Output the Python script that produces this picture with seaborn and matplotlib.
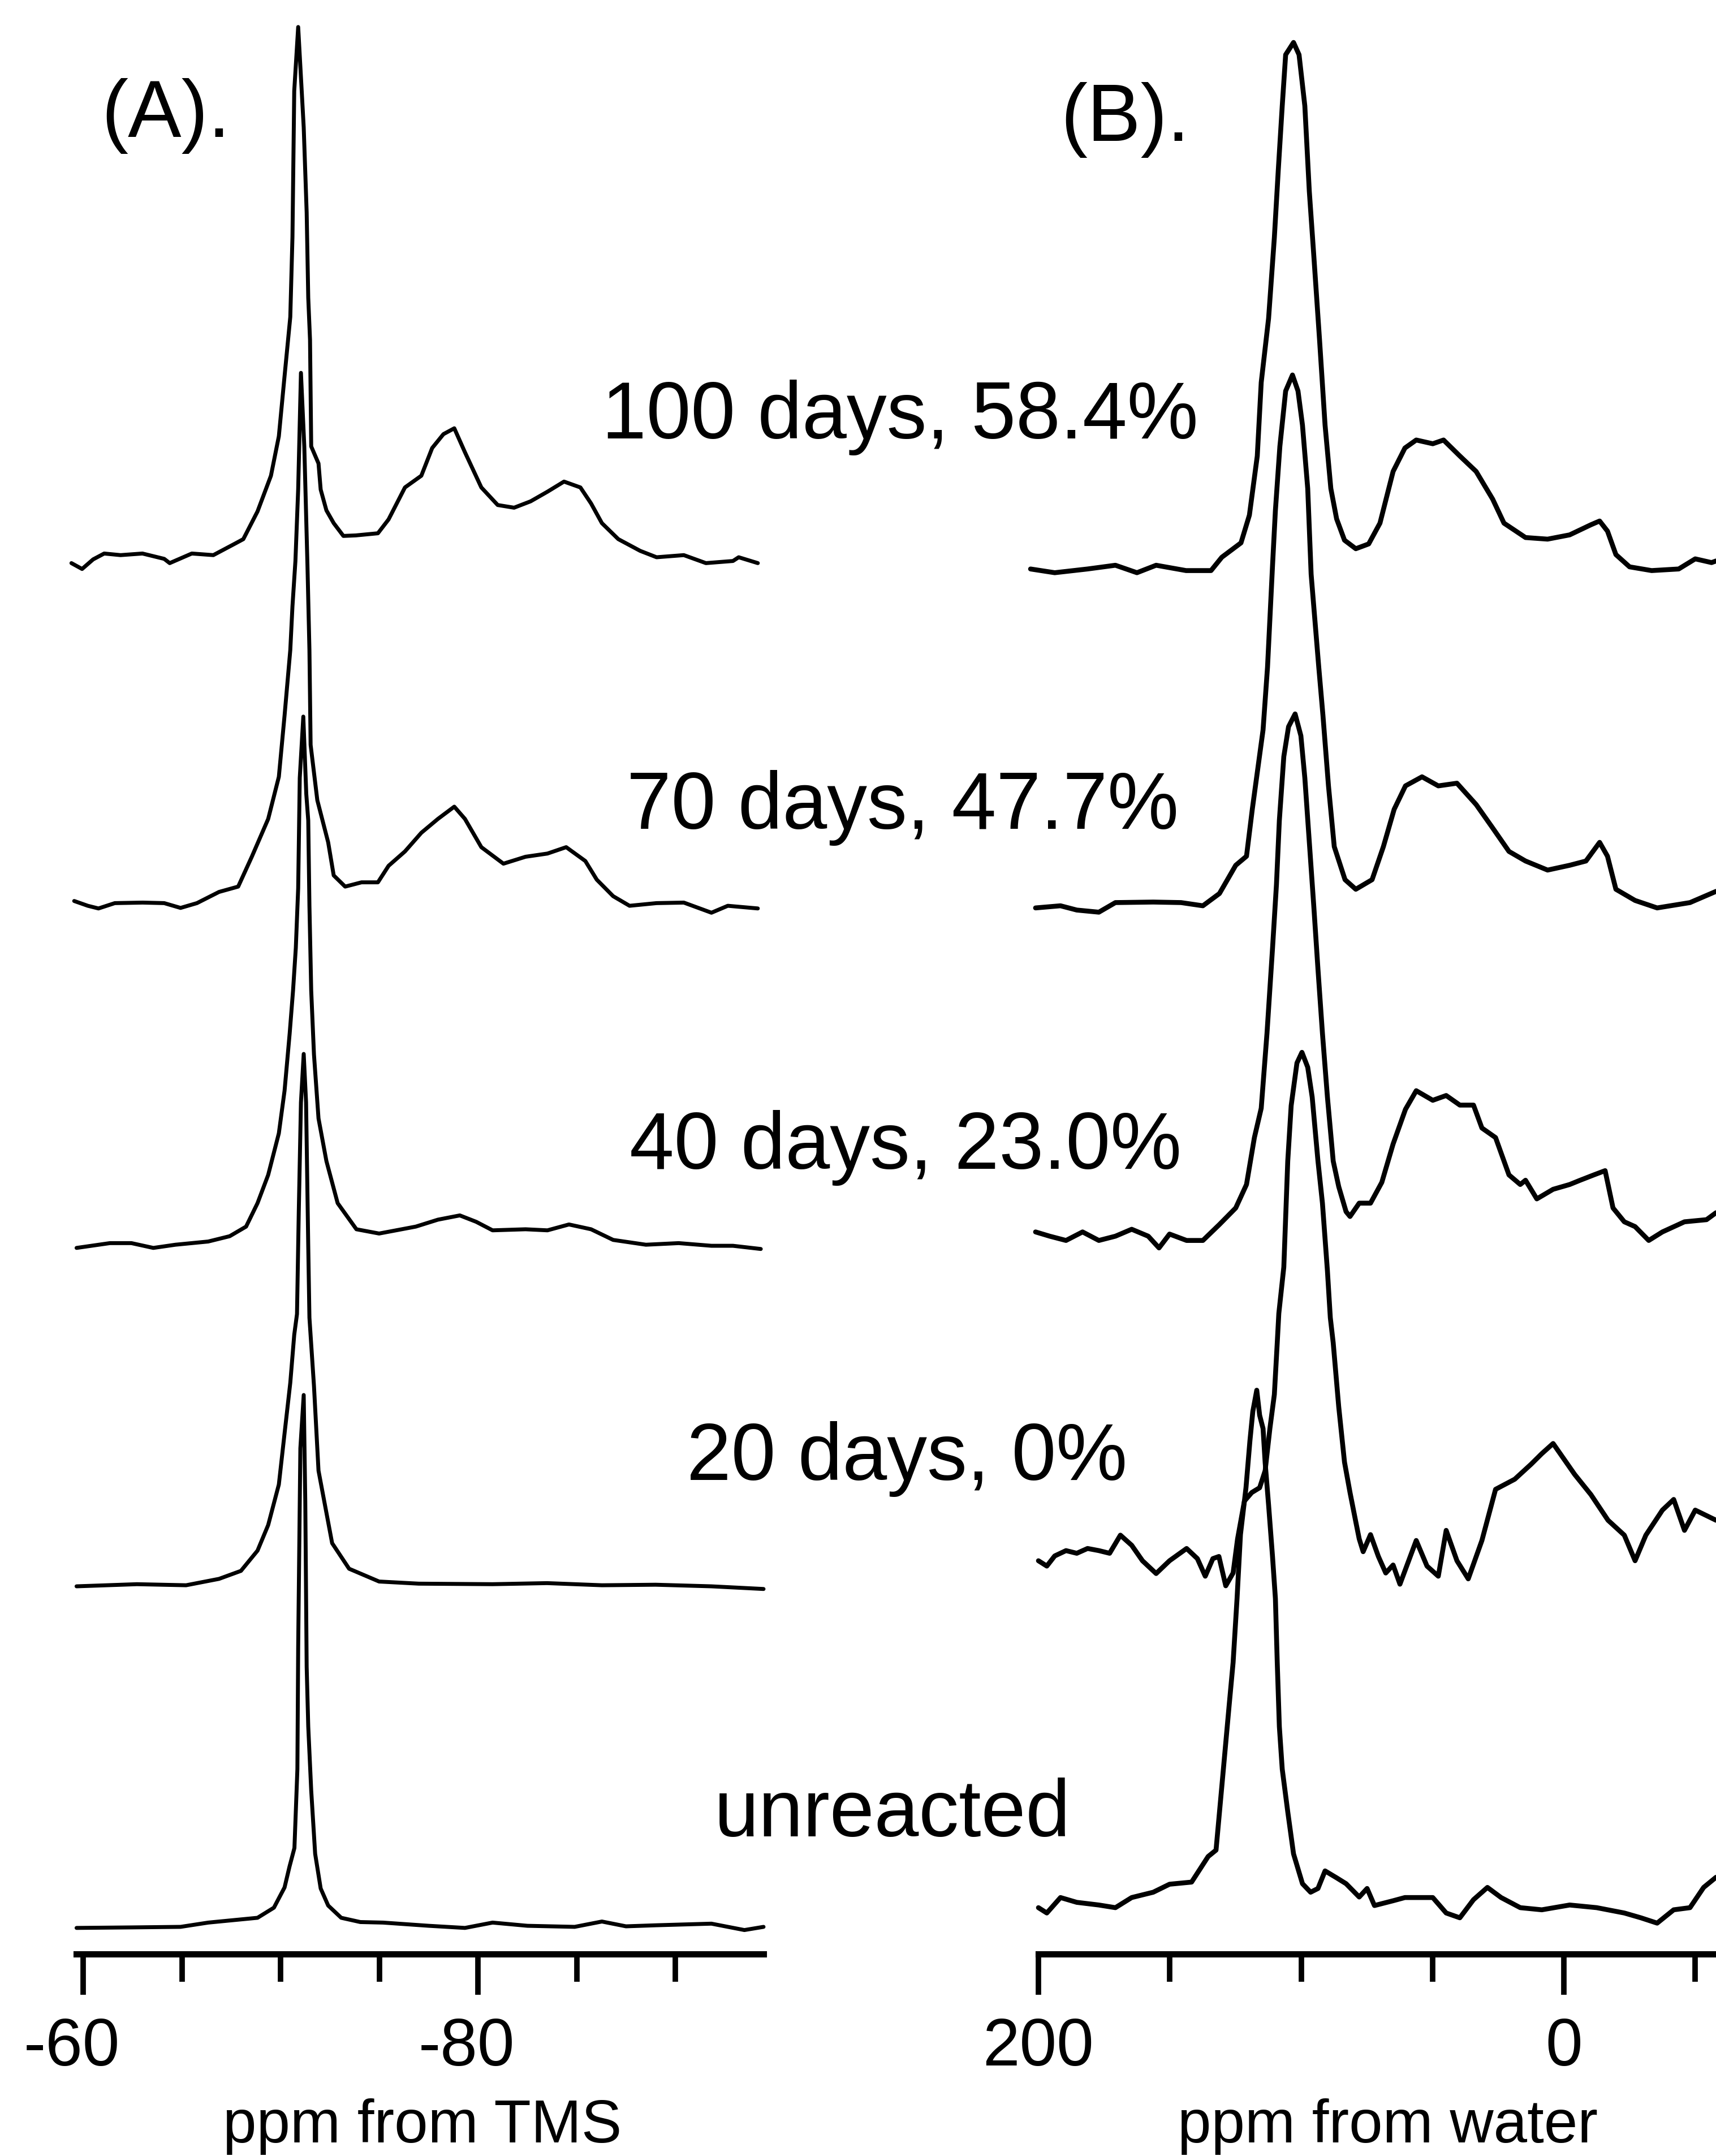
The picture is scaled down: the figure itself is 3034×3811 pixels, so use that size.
import numpy as np
import matplotlib
matplotlib.use("Agg")
import matplotlib.pyplot as plt
import matplotlib.transforms as mtransforms
import seaborn as sns

# ---- panel A: 29Si spectra, ppm from TMS ; intensity normalised to main peak
A_100_ppm = [-59.40, -59.94, -60.5, -61.06, -61.89, -63.0, -64.10, -64.38, -65.50, -66.59, -67.71, -68.11,
             -68.83, -69.51, -69.91, -70.20, -70.49, -70.60, -70.69, -70.89, -71.17, -71.32, -71.40, -71.49,
             -71.55, -71.92, -72.03, -72.32, -72.69, -73.18, -73.81, -74.93, -75.47, -76.30, -77.13, -77.68,
             -78.25, -78.80, -79.34, -80.17, -81.00, -81.83, -82.67, -83.52, -84.36, -85.19, -85.73, -86.28,
             -87.11, -88.22, -89.05, -90.43, -91.55, -92.92, -93.21, -94.18]
A_100_int = [-0.012, -0.023, -0.005, 0.006, 0.003, 0.006, -0.004, -0.012, 0.006, 0.003, 0.025, 0.033,
             0.085, 0.152, 0.226, 0.339, 0.450, 0.600, 0.874, 0.994, 0.806, 0.646, 0.486, 0.407,
             0.207, 0.175, 0.126, 0.087, 0.063, 0.039, 0.040, 0.044, 0.070, 0.130, 0.152, 0.204,
             0.230, 0.241, 0.196, 0.130, 0.097, 0.092, 0.104, 0.122, 0.141, 0.130, 0.100, 0.063,
             0.033, 0.011, -0.001, 0.003, -0.012, -0.008, -0.001, -0.012]

A_70_ppm = [-59.54, -60.23, -60.77, -61.60, -63.01, -64.10, -64.93, -65.76, -66.88, -67.85, -68.54, -69.37,
            -69.91, -70.20, -70.49, -70.60, -70.75, -70.89, -71.03, -71.20, -71.36, -71.46, -71.52, -71.86,
            -72.41, -72.69, -73.27, -74.10, -74.93, -75.47, -76.30, -77.13, -77.97, -78.80, -79.34, -80.17,
            -81.29, -82.41, -83.52, -84.47, -85.44, -86.02, -86.85, -87.68, -89.05, -90.43, -91.83, -92.66,
            -94.18]
A_70_int = [0.007, -0.002, -0.007, 0.003, 0.004, 0.003, -0.006, 0.003, 0.024, 0.034, 0.090, 0.161,
            0.240, 0.355, 0.478, 0.560, 0.645, 0.780, 0.998, 0.860, 0.637, 0.478, 0.300, 0.196,
            0.117, 0.055, 0.034, 0.042, 0.042, 0.073, 0.100, 0.135, 0.161, 0.184, 0.161, 0.108,
            0.077, 0.090, 0.096, 0.108, 0.082, 0.047, 0.016, -0.002, 0.003, 0.004, -0.015, -0.002,
            -0.007]

A_40_ppm = [-59.66, -61.35, -62.44, -63.55, -64.67, -66.33, -67.42, -68.25, -68.83, -69.37, -69.91, -70.20,
            -70.46, -70.63, -70.77, -70.89, -70.97, -71.15, -71.30, -71.40, -71.46, -71.55, -71.69, -71.92,
            -72.32, -72.89, -73.84, -74.99, -76.85, -77.97, -79.08, -79.91, -80.74, -82.41, -83.52, -84.61,
            -85.73, -86.85, -88.51, -90.17, -91.83, -92.92, -94.33]
A_40_int = [-0.002, 0.007, 0.007, -0.002, 0.004, 0.010, 0.020, 0.038, 0.082, 0.135, 0.213, 0.293,
            0.401, 0.481, 0.561, 0.673, 0.880, 0.995, 0.850, 0.800, 0.640, 0.481, 0.361, 0.241,
            0.161, 0.082, 0.033, 0.025, 0.038, 0.051, 0.059, 0.047, 0.031, 0.033, 0.031, 0.042,
            0.033, 0.013, 0.004, 0.007, 0.002, 0.002, -0.004]

A_20_ppm = [-59.66, -62.72, -65.21, -66.88, -67.99, -68.83, -69.37, -69.91, -70.20, -70.49, -70.69, -70.83,
            -70.92, -71.03, -71.17, -71.29, -71.40, -71.46, -71.69, -71.92, -72.61, -73.47, -74.99, -77.0,
            -80.74, -83.5, -86.28, -89.0, -91.83, -94.47]
A_20_int = [0.001, 0.005, 0.003, 0.015, 0.030, 0.068, 0.116, 0.192, 0.288, 0.383, 0.473, 0.512,
            0.704, 0.909, 1.0, 0.909, 0.639, 0.505, 0.377, 0.218, 0.082, 0.034, 0.010, 0.006,
            0.005, 0.007, 0.003, 0.004, 0.001, -0.004]

A_0_ppm = [-59.66, -62.5, -64.93, -66.33, -68.83, -69.66, -70.20, -70.45, -70.70, -70.85, -70.89, -71.00,
           -71.17, -71.25, -71.32, -71.40, -71.55, -71.75, -72.03, -72.41, -73.07, -74.04, -75.19, -77.5,
           -79.34, -80.74, -82.5, -84.90, -86.28, -87.5, -89.05, -91.83, -93.50, -94.47]
A_0_int = [0.0, 0.001, 0.002, 0.010, 0.019, 0.038, 0.076, 0.115, 0.150, 0.298, 0.527, 0.90,
           1.0, 0.80, 0.490, 0.378, 0.258, 0.139, 0.074, 0.042, 0.019, 0.011, 0.010, 0.004,
           0.0, 0.010, 0.004, 0.002, 0.012, 0.003, 0.005, 0.008, -0.004, 0.002]

# ---- panel B: spectra, ppm from water
B_100_ppm = [203.0, 193.8, 181.3, 170.7, 162.5, 155.2, 143.8, 134.3, 130.2, 122.9, 119.7, 116.7, 115.2,
             112.4, 110.2, 108.7, 107.2, 105.9, 102.9, 100.8, 98.6, 96.9, 95.2, 93.0, 90.9, 88.7, 86.5,
             83.5, 79.2, 74.3, 70.0, 65.0, 60.5, 56.2, 49.9, 45.8, 39.6, 33.4, 27.1, 22.8, 14.6, 6.2,
             -2.2, -10.3, -13.6, -16.6, -19.8, -25.0, -33.4, -43.7, -50.0, -56.2, -57.9]
B_100_int = [0, -0.007, 0, 0.007, -0.007, 0.007, -0.003, -0.003, 0.022, 0.049, 0.101, 0.212, 0.350,
             0.470, 0.622, 0.749, 0.869, 0.965, 0.988, 0.965, 0.869, 0.709, 0.589, 0.430, 0.270, 0.151, 0.094,
             0.054, 0.038, 0.047, 0.086, 0.183, 0.227, 0.242, 0.235, 0.242, 0.212, 0.183, 0.131, 0.086, 0.059, 0.056,
             0.064, 0.083, 0.090, 0.071, 0.027, 0.004, -0.003, 0, 0.019, 0.012, 0.015]

B_70_ppm = [201.1, 191.6, 185.4, 177.0, 170.7, 156.3, 145.7, 137.4, 131.1, 124.9, 120.8, 118.6, 114.5,
            112.8, 110.9, 109.8, 108.1, 105.9, 103.3, 101.2, 99.5, 97.5, 96.2, 93.3, 91.7, 89.6, 87.4,
            83.3, 79.2, 73.0, 68.7, 64.6, 60.3, 54.0, 47.8, 40.7, 33.4, 27.1, 20.9, 14.6, 6.2, -2.2,
            -8.4, -13.6, -16.6, -19.8, -27.1, -35.5, -48.0, -57.9]
B_70_int = [0, 0.004, -0.004, -0.008, 0.010, 0.011, 0.010, 0.004, 0.027, 0.080, 0.097, 0.185, 0.334,
            0.452, 0.642, 0.746, 0.866, 0.970, 1.0, 0.970, 0.906, 0.787, 0.626, 0.452, 0.361, 0.229, 0.115,
            0.053, 0.035, 0.053, 0.115, 0.185, 0.229, 0.246, 0.229, 0.234, 0.194, 0.150, 0.106, 0.088, 0.071, 0.080,
            0.088, 0.123, 0.097, 0.035, 0.014, 0, 0.010, 0.031]

B_40_ppm = [201.1, 195.7, 189.5, 183.2, 177.0, 170.7, 164.5, 158.2, 154.1, 150.1, 143.6, 137.4, 131.1,
            124.9, 120.8, 117.8, 115.2, 113.0, 110.9, 109.4, 108.3, 106.6, 104.8, 102.3, 100.1, 98.6, 96.9,
            95.2, 93.6, 91.9, 90.0, 87.8, 85.7, 82.9, 81.4, 77.9, 73.6, 69.3, 65.0, 60.3, 56.2, 49.9,
            44.8, 39.6, 34.4, 31.2, 26.0, 20.9, 16.6, 14.6, 10.3, 4.1, -2.2, -6.2, -11.4, -15.7, -18.7,
            -23.0, -27.1, -32.3, -37.5, -45.9, -54.3, -57.9]
B_40_int = [0.008, 0, -0.008, 0.008, -0.008, 0, 0.013, 0, -0.022, 0.004, -0.008, -0.008, 0.022,
            0.053, 0.097, 0.185, 0.240, 0.381, 0.540, 0.660, 0.780, 0.900, 0.956, 0.980, 0.939, 0.860, 0.740,
            0.620, 0.501, 0.381, 0.261, 0.141, 0.093, 0.046, 0.037, 0.062, 0.062, 0.101, 0.173, 0.238, 0.273, 0.255,
            0.264, 0.246, 0.246, 0.203, 0.185, 0.115, 0.097, 0.105, 0.070, 0.088, 0.097, 0.105, 0.115, 0.123, 0.053,
            0.027, 0.018, -0.008, 0.008, 0.027, 0.031, 0.044]

B_20_ppm = [200.0, 196.8, 193.8, 189.5, 185.4, 181.3, 177.0, 172.9, 168.8, 164.5, 160.4, 155.2, 150.1,
            143.6, 139.5, 136.5, 133.6, 131.3, 128.7, 125.9, 124.2, 121.6, 118.8, 115.8, 113.7, 111.9, 110.2,
            109.1, 108.5, 106.6, 105.1, 103.8, 101.6, 99.7, 97.5, 95.8, 93.6, 91.9, 90.0, 88.9, 87.8, 85.7,
            83.5, 81.4, 79.2, 77.9, 76.4, 73.6, 70.6, 67.8, 65.0, 62.4, 56.2, 52.1, 47.8, 44.8, 40.7,
            36.4, 31.2, 26.0, 18.7, 12.5, 8.4, 4.1, 0.0, -4.1, -10.3, -16.8, -23.0, -27.1, -31.2,
            -37.5, -41.8, -45.9, -50.0, -57.9]
B_20_int = [0.016, 0.006, 0.025, 0.035, 0.030, 0.039, 0.035, 0.030, 0.064, 0.045, 0.016, -0.008, 0.016,
            0.039, 0.020, -0.013, 0.020, 0.024, -0.031, -0.007, 0.057, 0.128, 0.144, 0.153, 0.185, 0.264, 0.328,
            0.425, 0.480, 0.567, 0.766, 0.870, 0.950, 0.970, 0.942, 0.886, 0.766, 0.687, 0.560, 0.472, 0.425, 0.305,
            0.201, 0.144, 0.089, 0.057, 0.033, 0.065, 0.024, -0.007, 0.008, -0.028, 0.054, 0.006, -0.013, 0.073, 0.016,
            -0.018, 0.054, 0.150, 0.169, 0.197, 0.217, 0.236, 0.207, 0.178, 0.140, 0.092, 0.064, 0.016, 0.064,
            0.111, 0.131, 0.073, 0.111, 0.092]

B_0_ppm = [200.0, 196.8, 191.6, 185.4, 177.0, 170.7, 164.5, 156.3, 150.1, 141.7, 135.4, 132.4, 129.6,
           127.4, 125.9, 124.4, 123.1, 121.0, 119.5, 118.4, 116.9, 115.8, 114.5, 113.7, 112.4, 110.9, 109.8,
           109.1, 108.3, 107.2, 105.1, 102.9, 99.5, 96.4, 93.6, 90.9, 86.5, 82.9, 77.9, 74.9, 72.1, 65.0,
           60.5, 49.9, 44.8, 39.6, 34.4, 29.1, 23.9, 16.6, 8.4, -2.2, -12.5, -23.0, -29.3, -35.5, -41.8,
           -48.0, -53.2, -57.9]
B_0_int = [0, -0.010, 0.019, 0.010, 0.005, 0, 0.019, 0.029, 0.044, 0.048, 0.096, 0.108, 0.260,
           0.380, 0.460, 0.580, 0.700, 0.788, 0.876, 0.931, 0.971, 0.924, 0.899, 0.835, 0.756, 0.659, 0.580,
           0.460, 0.340, 0.260, 0.180, 0.101, 0.045, 0.029, 0.036, 0.069, 0.056, 0.045, 0.020, 0.036, 0.004, 0.013,
           0.019, 0.019, -0.010, -0.019, 0.015, 0.038, 0.019, 0, -0.004, 0.005, 0, -0.010, -0.019, -0.029, -0.004,
           0, 0.038, 0.057]

labels = ["100 days, 58.4%", "70 days, 47.7%", "40 days, 23.0%", "20 days, 0%", "unreacted"]
A_ticks = [-60, -80]
A_tick_labels = ["-60", "-80"]
A_minor = [-65, -70, -75, -85, -90]
B_ticks = [200, 0]
B_tick_labels = ["200", "0"]
B_minor = [150, 100, 50, -50]

# stacking offsets (baseline height above axis line, in units of peak height)
A_offsets = [2.622, 1.969, 1.327, 0.689, 0.049]
B_offsets = [2.599, 1.963, 1.347, 0.722, 0.087]

sns.set_style("white")
plt.rcParams['font.family'] = ['Liberation Sans', 'DejaVu Sans']
plt.rcParams['text.color'] = 'black'
plt.rcParams['xtick.color'] = 'black'
plt.rcParams['axes.labelcolor'] = 'black'

W, H = 3034, 3812
fig = plt.figure(figsize=(W / 100, H / 100), dpi=100)
axA = fig.add_axes([135 / W, 357 / H, 1215 / W, 3455 / H])
axB = fig.add_axes([1836 / W, 357 / H, 1198 / W, 3455 / H])

specA = [(A_100_ppm, A_100_int), (A_70_ppm, A_70_int), (A_40_ppm, A_40_int),
         (A_20_ppm, A_20_int), (A_0_ppm, A_0_int)]
specB = [(B_100_ppm, B_100_int), (B_70_ppm, B_70_int), (B_40_ppm, B_40_int),
         (B_20_ppm, B_20_int), (B_0_ppm, B_0_int)]

for (ppm, inten), off in zip(specA, A_offsets):
    sns.lineplot(x=ppm, y=np.array(inten) + off, ax=axA, color='black', linewidth=5.0,
                 sort=False, estimator=None, legend=False)
    axA.lines[-1].set_clip_on(False)
for (ppm, inten), off in zip(specB, B_offsets):
    sns.lineplot(x=ppm, y=np.array(inten) + off, ax=axB, color='black', linewidth=6.2,
                 sort=False, estimator=None, legend=False)
    axB.lines[-1].set_clip_on(False)

axA.set_xlim(-59.65, -94.47)
axB.set_xlim(200, -57.9)
for ax in (axA, axB):
    ax.set_ylim(0, 3455 / 942)
    ax.set_yticks([])
    ax.set_xlabel("")
    ax.set_ylabel("")
    ax.patch.set_alpha(0)
    for s in ['left', 'top', 'right']:
        ax.spines[s].set_visible(False)
    ax.spines['bottom'].set_linewidth(8)
    ax.spines['bottom'].set_color('black')
    ax.tick_params(axis='x', which='major', direction='out', length=52, width=7, color='black',
                   labelcolor='black', labelsize=85, pad=27, bottom=True)
    ax.tick_params(axis='x', which='minor', direction='out', length=35, width=7, color='black', bottom=True)

axA.set_xticks(A_ticks)
axA.set_xticklabels(A_tick_labels)
axA.set_xticks(A_minor, minor=True)
axB.set_xticks(B_ticks)
axB.set_xticklabels(B_tick_labels)
axB.set_xticks(B_minor, minor=True)

# panel A labels sit a little left of their ticks
shift = mtransforms.ScaledTranslation(-0.2, 0, fig.dpi_scale_trans)
for lbl in axA.get_xticklabels():
    lbl.set_transform(lbl.get_transform() + shift)

# series labels between the panels
lab_x = [1064, 1108, 1113, 1214, 1263]
lab_y = [775, 1465, 2066, 2616, 3246]
for t, x, y in zip(labels, lab_x, lab_y):
    fig.text(x / W, 1 - y / H, t, fontsize=102, ha='left', va='baseline', color='black')

fig.text(179 / W, 1 - 242 / H, "(A).", fontsize=102, ha='left', va='baseline', color='black')
fig.text(1875 / W, 1 - 249 / H, "(B).", fontsize=102, ha='left', va='baseline', color='black')
fig.text(747 / W, 1 - 3787 / H, "ppm from TMS", fontsize=77, ha='center', va='baseline', color='black')
fig.text(2453 / W, 1 - 3787 / H, "ppm from water", fontsize=77, ha='center', va='baseline', color='black')

fig.savefig("out.png", dpi=100, facecolor='white')
